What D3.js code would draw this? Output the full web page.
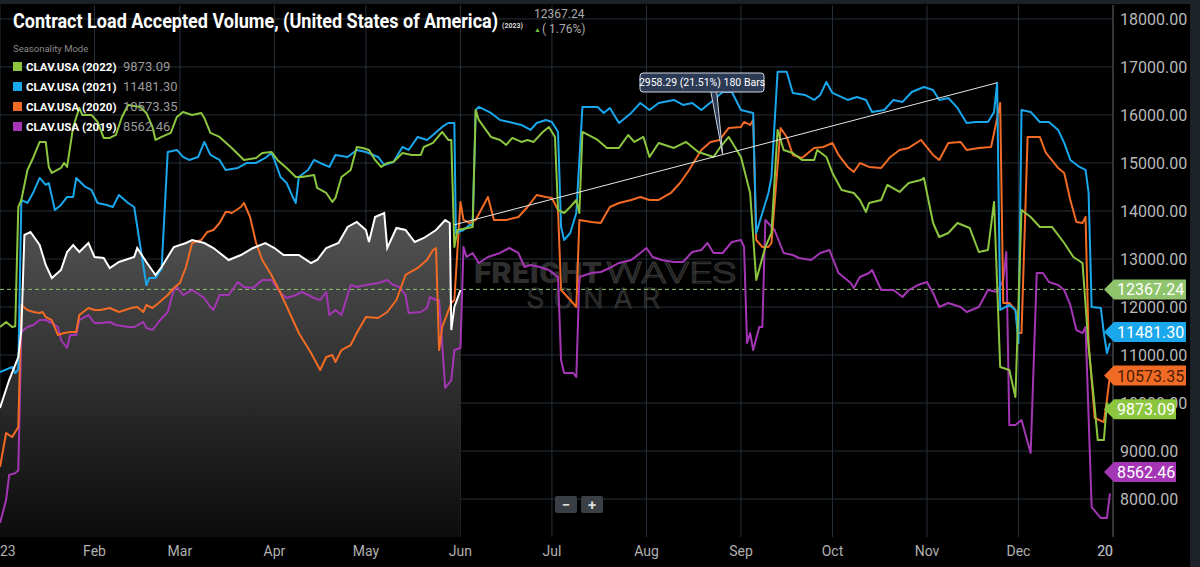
<!DOCTYPE html>
<html>
<head>
<meta charset="utf-8">
<script src="https://cdn.jsdelivr.net/npm/d3@7"></script>
<style>
  html, body { margin: 0; padding: 0; background: #000; }
  svg { display: block; font-family: Roboto, "Noto Sans", sans-serif; }
</style>
</head>
<body>
<svg id="chart" width="1200" height="567"></svg>
<script>
// [day of 2023, value]
const s2023 = [[0,9896],[3,10479],[6,10958],[7,11520],[8,13500],[10,13563],[13,13292],[15,12875],[17,12604],[20,12771],[22,13146],[24,13292],[26,13146],[29,13333],[31,13042],[34,13021],[36,12813],[39,12938],[44,13042],[45,13229],[48,12938],[51,12667],[53,12833],[57,13250],[61,13333],[63,13396],[67,13333],[70,13229],[75,12979],[79,13083],[83,13229],[87,13333],[90,13229],[93,13083],[98,13083],[102,12917],[104,12979],[107,13229],[111,13333],[114,13667],[117,13771],[120,13604],[121,13354],[123,13875],[126,13958],[127,13229],[130,13646],[133,13604],[136,13354],[139,13438],[143,13604],[146,13813],[147.5,13750],[148,11521],[149,12000],[151,12354]]

const s2022 = [[0,11583],[2,11688],[4,11583],[5,11600],[6,14083],[7,14229],[9,14854],[11,15125],[13,15438],[15,15438],[16,14917],[17,14792],[20,14896],[21,15000],[22,14917],[24,15750],[26,16146],[27,16000],[30,16000],[32,15854],[34,15521],[36,15521],[38,15583],[40,15958],[42,16208],[46,16167],[48,16042],[50,15750],[51,15479],[53,15542],[56,15625],[58,15958],[60,16063],[63,16000],[66,16042],[67,15938],[69,15625],[72,15542],[76,15313],[80,15063],[84,15104],[86,15208],[89,15229],[91,15063],[94,14896],[97,14708],[99,14708],[103,14750],[104,14479],[107,14375],[109,14188],[110,14271],[112,14708],[115,14854],[117,15333],[119,15313],[121,15271],[123,15063],[125,14917],[127,15000],[129,15021],[132,15208],[135,15167],[138,15167],[139,15333],[142,15417],[145,15646],[147,15479],[148,15479],[149,13250],[150,13604],[155,13667],[156,16104],[157,15896],[161,15542],[164,15479],[166,15375],[168,15521],[171,15438],[173,15479],[175,15438],[178,15646],[180,15750],[182,15542],[183,14021],[185,13958],[187,14083],[189,14229],[190,13958],[191,15646],[196,15479],[199,15313],[203,15313],[206,15583],[208,15438],[211,15542],[213,15125],[216,15417],[221,15313],[225,15438],[229,15229],[232,15167],[234,15125],[236,15313],[239,15542],[243,15125],[246,14375],[248,12563],[251,13250],[253,13542],[255,15688],[257,15271],[260,15208],[263,15063],[267,15063],[268,15271],[271,15125],[273,14792],[276,14438],[280,14375],[282,14229],[284,13979],[285,14167],[289,14229],[291,14542],[295,14396],[298,14583],[302,14646],[303,14688],[306,13750],[308,13458],[311,13542],[314,13750],[318,13646],[321,13146],[324,13188],[326,14188],[328,10750],[331,10688],[333,10125],[335,14021],[338,13875],[341,13667],[345,13667],[349,13333],[352,13042],[355,12917],[357,11170],[359,9917],[360,9229],[362,9229],[363,10000],[364,9873]]

const s2021 = [[0,10646],[4,10750],[5,10625],[6,10700],[7,14229],[9,14167],[11,14396],[13,14688],[15,14542],[16,14583],[18,14021],[20,14125],[22,14292],[24,14292],[25,14688],[28,14500],[30,14438],[32,14167],[35,14125],[37,14083],[39,14333],[42,14167],[44,14083],[48,12458],[49,12604],[51,12604],[53,12800],[55,15229],[58,15271],[60,15125],[62,15063],[65,15125],[67,15438],[69,15167],[72,15063],[74,14854],[78,14896],[81,15000],[84,15000],[87,15104],[89,15208],[90,15063],[92,14708],[94,14583],[96,14292],[97,14167],[98,14708],[101,14854],[103,15063],[105,15000],[108,14917],[110,15167],[114,15125],[117,15271],[120,15229],[124,15125],[126,14958],[129,15021],[132,15333],[134,15271],[137,15542],[140,15479],[142,15583],[145,15750],[147,15833],[149,15833],[149.5,13542],[152,13604],[154,13708],[155,13708],[156,16104],[157,16167],[161,16042],[164,15896],[167,15854],[171,15792],[174,15688],[176,15833],[179,15896],[181,15854],[183,15646],[184,13667],[185,13396],[187,13542],[189,13958],[191,16167],[194,16167],[196,16167],[198,16042],[200,16146],[203,15833],[207,16042],[210,16250],[213,16104],[216,16250],[221,16313],[224,16208],[227,16250],[230,16104],[234,16313],[237,16479],[240,16479],[243,16104],[247,16042],[248,13542],[250,13958],[252,14375],[253,14708],[255,16900],[258,16900],[260,16458],[264,16417],[267,16313],[269,16417],[271,16688],[273,16458],[278,16313],[281,16375],[284,16313],[286,16063],[290,16104],[293,16313],[296,16271],[299,16479],[303,16583],[306,16521],[308,16313],[311,16354],[314,16146],[317,15833],[320,15854],[324,15854],[326,16063],[327,16670],[328,11938],[331,12042],[333,11938],[334,11250],[335,16104],[338,16063],[341,15854],[344,15854],[347,15688],[349,15417],[351,15063],[354,14917],[356,14854],[357,14375],[358,12000],[361,11979],[362,11460],[363,11040],[364,11250]]

const s2020 = [[0,8667],[2,9375],[4,9292],[6,9500],[7,12042],[9,11938],[11,11896],[13,11875],[14,11896],[15,11792],[17,11729],[19,11417],[21,11458],[23,11479],[25,11479],[26,11833],[29,11979],[31,11938],[33,11938],[36,11979],[39,11896],[43,11979],[45,12000],[47,11896],[48,12042],[50,11979],[52,12083],[55,12250],[57,12396],[59,12500],[61,12833],[63,13333],[66,13396],[68,13563],[70,13604],[72,13750],[74,13979],[75,13979],[76,13958],[79,14083],[80,14167],[82,13875],[84,13333],[86,12979],[89,12667],[92,12292],[95,11875],[98,11458],[102,11042],[105,10688],[107,10958],[109,11000],[110,10854],[112,11104],[115,11208],[117,11458],[120,11792],[124,11771],[127,11896],[130,12146],[133,12667],[137,12813],[140,12979],[142,13188],[143,13229],[144,11104],[145,11583],[148,12083],[149,12146],[151,14188],[152,13813],[154,13750],[156,13813],[160,14292],[162,13813],[166,13813],[170,13875],[173,14083],[176,14333],[179,14292],[181,14271],[183,14021],[184,12354],[187,12146],[189,12000],[190,13813],[194,13771],[197,13750],[200,14083],[203,14167],[207,14229],[210,14292],[213,14229],[216,14229],[220,14375],[223,14583],[226,14854],[230,15271],[233,15438],[236,15479],[239,15729],[243,15750],[244,15854],[246,15792],[247,15896],[248,13396],[250,13250],[252,13250],[253,13333],[256,15729],[258,15542],[260,15167],[263,15104],[267,15313],[270,15333],[273,15417],[275,15167],[278,14917],[280,14813],[282,15000],[285,14917],[289,14896],[292,15125],[295,15271],[298,15313],[302,15479],[306,15167],[308,15063],[311,15417],[315,15438],[317,15271],[321,15313],[325,15333],[326,15625],[328,16250],[329,12083],[331,12083],[333,11938],[334,11458],[335,11458],[337,15542],[341,15542],[343,15208],[347,14896],[349,14792],[351,14229],[353,13771],[355,13750],[356,13875],[357,11250],[359,9688],[362,9604],[363,10063],[364,10573]]

const s2019 = [[0,7500],[2,7979],[3,8500],[5,8540],[6,8600],[7,11479],[9,11583],[11,11625],[13,11729],[15,11729],[17,11667],[19,11583],[20,11313],[22,11146],[23,11417],[25,11417],[26,11729],[29,11833],[31,11667],[33,11667],[36,11688],[38,11625],[42,11583],[44,11583],[47,11688],[48,11563],[50,11521],[52,11688],[55,11896],[57,12354],[58,12417],[60,12250],[63,12354],[67,12188],[69,12000],[70,11938],[72,12250],[75,12250],[78,12521],[80,12417],[83,12396],[86,12563],[89,12563],[92,12292],[94,12188],[97,12250],[99,12313],[103,12188],[105,12146],[107,12313],[108,11833],[110,11938],[112,11833],[115,12458],[117,12417],[120,12458],[124,12500],[127,12563],[129,12458],[131,12417],[133,12250],[134,11875],[138,11896],[140,11979],[141,12208],[143,12146],[144,12146],[146,10313],[148,10479],[149,11104],[151,11146],[152,13250],[153,13042],[155,13125],[157,12917],[160,13042],[164,13125],[167,13229],[170,13125],[172,12833],[174,12875],[177,12833],[180,12771],[183,12625],[184,10896],[185,10625],[188,10625],[189,10542],[190,12625],[194,12708],[197,12729],[200,12813],[203,12917],[207,12979],[210,13125],[212,13229],[214,13042],[217,12979],[221,12938],[224,12938],[227,13146],[230,13188],[232,13333],[234,13125],[237,13125],[240,13354],[243,13396],[244,13250],[245,11250],[246,11458],[247,11104],[249,11583],[250,11583],[251,13813],[254,13604],[257,13125],[260,13083],[262,13021],[266,12979],[269,13125],[272,13188],[275,12708],[279,12500],[280,12396],[282,12625],[285,12708],[286,12771],[289,12354],[293,12354],[296,12208],[298,12354],[301,12458],[304,12521],[306,12292],[308,12000],[311,12083],[315,12000],[317,11896],[321,12000],[324,12354],[327,12313],[329,12563],[330,13146],[331,9542],[333,9542],[335,9646],[338,8958],[340,12708],[342,12708],[344,12521],[347,12458],[349,12354],[351,12042],[353,11521],[355,11458],[356,11583],[358,7833],[361,7604],[363,7604],[364,8120]]

const seriesNames = ['CLAV.USA (2022)', 'CLAV.USA (2021)', 'CLAV.USA (2020)', 'CLAV.USA (2019)']
const seriesColors = ['#8cc63f', '#1aa7ec', '#f26b24', '#a436b5']
const lastValues = [9873.09, 11481.30, 10573.35, 8562.46]
const currentValue = 12367.24
const changePct = '1.76%'
const yTicks = [8000, 9000, 10000, 11000, 12000, 13000, 14000, 15000, 16000, 17000, 18000]
const trendFrom = [149, 13712]
const trendTo = [327, 16670]

const svg = d3.select('#chart')
const W = 1200, H = 567
const plotR = 1113, plotT = 5, plotB = 537

const day0 = new Date(2023, 0, 1)
const toDate = d => new Date(day0.getTime() + d * 864e5)

const x = d3.scaleTime().domain([day0, new Date(2024, 0, 1)]).range([0, plotR])
const y = d3.scaleLinear().domain([7210, 18290]).range([plotB, plotT])

// backgrounds
svg.append('rect').attr('width', W).attr('height', H).attr('fill', '#000')
svg.append('rect').attr('x', 1190).attr('width', 10).attr('height', H).attr('fill', '#1d2229')
svg.append('rect').attr('width', W).attr('height', 4).attr('fill', '#1d2229')

// grid
const grid = svg.append('g')
grid.selectAll('.hy').data(yTicks).join('line')
    .attr('x1', 0).attr('x2', plotR)
    .attr('y1', d => y(d)).attr('y2', d => y(d))
    .attr('stroke', '#25303b').attr('stroke-width', 1)
grid.selectAll('.vx').data(x.ticks(d3.timeMonth.every(1))).join('line')
    .attr('x1', d => x(d)).attr('x2', d => x(d))
    .attr('y1', plotT).attr('y2', plotB)
    .attr('stroke', '#25303b').attr('stroke-width', 1)

// watermark
const wm = svg.append('g')
wm.append('text').attr('x', 474).attr('y', 283).attr('font-size', 30).attr('font-weight', 900)
    .attr('fill', '#2e2e2e').attr('textLength', 128).attr('lengthAdjust', 'spacingAndGlyphs').text('FREIGHT')
wm.append('text').attr('x', 606).attr('y', 283).attr('font-size', 30).attr('font-weight', 300)
    .attr('fill', 'none').attr('stroke', '#333').attr('stroke-width', 1.2)
    .attr('textLength', 130).attr('lengthAdjust', 'spacingAndGlyphs').text('WAVES')
wm.append('text').attr('x', 527).attr('y', 308).attr('font-size', 28).attr('font-weight', 300)
    .attr('fill', 'none').attr('stroke', '#333').attr('stroke-width', 1.2)
    .attr('textLength', 133).attr('lengthAdjust', 'spacing').text('SONAR')

// area under 2023
const defs = svg.append('defs')
const grad = defs.append('linearGradient').attr('id', 'ag').attr('x1', 0).attr('x2', 0).attr('y1', 0).attr('y2', 1)
grad.append('stop').attr('offset', '0%').attr('stop-color', '#545454')
grad.append('stop').attr('offset', '100%').attr('stop-color', '#0c0c0c')
svg.append('path').datum(s2023)
    .attr('fill', 'url(#ag)')
    .attr('d', d3.area().x(d => x(toDate(d[0]))).y0(plotB).y1(d => y(d[1])))

// dashed current-value line
svg.append('line').attr('x1', 0).attr('x2', plotR)
    .attr('y1', y(currentValue)).attr('y2', y(currentValue))
    .attr('stroke', '#8fc46c').attr('stroke-dasharray', '4,3').attr('stroke-width', 1)

const line = d3.line().x(d => x(toDate(d[0]))).y(d => y(d[1]))
const lines = [s2019, s2020, s2021, s2022]
const lineColors = [seriesColors[3], seriesColors[2], seriesColors[1], seriesColors[0]]
svg.selectAll('.ser').data(lines).join('path')
    .attr('fill', 'none').attr('stroke', (d, i) => lineColors[i]).attr('stroke-width', 2)
    .attr('stroke-linejoin', 'round').attr('d', line)
svg.append('path').datum(s2023).attr('fill', 'none').attr('stroke', '#fff')
    .attr('stroke-width', 2).attr('d', line)

// trend line annotation
svg.append('line')
    .attr('x1', x(toDate(trendFrom[0]))).attr('y1', y(trendFrom[1]))
    .attr('x2', x(toDate(trendTo[0]))).attr('y2', y(trendTo[1]))
    .attr('stroke', '#e8e8e8').attr('stroke-width', 1)
const midDay = 237
const midVal = trendFrom[1] + (trendTo[1] - trendFrom[1]) * (midDay - trendFrom[0]) / (trendTo[0] - trendFrom[0])
const mx = x(toDate(midDay)), my = y(midVal)
svg.append('path').attr('d', `M${mx - 12},91 L${mx},${my} L${mx - 6},91`)
    .attr('fill', '#2c3a55').attr('stroke', '#cfd6e0').attr('stroke-width', 1)
svg.append('rect').attr('x', 640).attr('y', 73).attr('width', 124).attr('height', 19).attr('rx', 3)
    .attr('fill', '#2c3a55').attr('stroke', '#cfd6e0').attr('stroke-width', 1)
svg.append('text').attr('x', 702).attr('y', 86).attr('text-anchor', 'middle')
    .attr('font-size', 10.5).attr('fill', '#fff').text('2958.29 (21.51%) 180 Bars')

// y axis
svg.append('line').attr('x1', plotR).attr('x2', plotR).attr('y1', plotT).attr('y2', plotB)
    .attr('stroke', '#555')
svg.append('g').selectAll('text').data(yTicks).join('text')
    .attr('x', 1120).attr('y', d => y(d) + 6)
    .attr('font-size', 16).attr('fill', '#b8b8b8').text(d => d3.format('.2f')(d))

// x axis labels, clipped to plot width
defs.append('clipPath').attr('id', 'xc').append('rect').attr('x', 0).attr('y', 540).attr('width', plotR).attr('height', 27)
const xTicks = x.ticks(d3.timeMonth.every(1)).concat([new Date(2024, 0, 1)])
svg.append('g').attr('clip-path', 'url(#xc)').selectAll('text').data(xTicks).join('text')
    .attr('x', d => x(d)).attr('y', 556).attr('text-anchor', 'middle')
    .attr('font-size', 14).attr('fill', '#b0b0b0')
    .text(d => d.getMonth() === 0 ? d3.timeFormat('%Y')(d) : d3.timeFormat('%b')(d))

// right value tags
const tags = [
  { v: currentValue, c: '#8fc46c', t: '12367.24' },
  { v: lastValues[1], c: seriesColors[1], t: '11481.30' },
  { v: lastValues[2], c: seriesColors[2], t: '10573.35' },
  { v: lastValues[0], c: seriesColors[0], t: '9873.09' },
  { v: lastValues[3], c: seriesColors[3], t: '8562.46' }
]
const tg = svg.append('g').selectAll('g').data(tags).join('g')
    .attr('transform', d => `translate(1104,${y(d.v)})`)
tg.append('path').attr('d', d => {
    const w = d.t.length > 7 ? 82 : 72
    return `M0,0 L10,-10 L${w},-10 L${w},10 L10,10 Z`
  }).attr('fill', d => d.c)
tg.append('text').attr('x', 13).attr('y', 6).attr('font-size', 16)
    .attr('fill', d => d.t === '10573.35' ? '#4a1c05' : '#fff').text(d => d.t)

// zoom buttons
const zb = svg.append('g')
zb.append('rect').attr('x', 555).attr('y', 496).attr('width', 22).attr('height', 17).attr('rx', 2).attr('fill', '#3a3f45')
zb.append('rect').attr('x', 581).attr('y', 496).attr('width', 22).attr('height', 17).attr('rx', 2).attr('fill', '#3a3f45')
zb.append('text').attr('x', 566).attr('y', 510).attr('text-anchor', 'middle').attr('font-size', 15).attr('font-weight', 700).attr('fill', '#ddd').text('\u2212')
zb.append('text').attr('x', 592).attr('y', 510).attr('text-anchor', 'middle').attr('font-size', 15).attr('font-weight', 700).attr('fill', '#ddd').text('+')

// title + legend
svg.append('text').attr('x', 13).attr('y', 28).attr('font-size', 21).attr('font-weight', 700)
    .attr('fill', '#fff').attr('textLength', 485).attr('lengthAdjust', 'spacingAndGlyphs')
    .text('Contract Load Accepted Volume, (United States of America)')
svg.append('text').attr('x', 502).attr('y', 28).attr('font-size', 7).attr('font-weight', 700).attr('fill', '#ddd').text('(2023)')
svg.append('text').attr('x', 534).attr('y', 18).attr('font-size', 12).attr('fill', '#aaa').text(d3.format('.2f')(currentValue))
svg.append('text').attr('x', 534).attr('y', 32).attr('font-size', 7).attr('fill', '#6cbf3c').text('\u25B2')
svg.append('text').attr('x', 542).attr('y', 33).attr('font-size', 12).attr('fill', '#aaa').text('( ' + changePct + ')')
svg.append('text').attr('x', 13).attr('y', 52).attr('font-size', 9.5).attr('fill', '#8a8a8a').text('Seasonality Mode')

const leg = svg.append('g').selectAll('g').data(seriesNames).join('g')
    .attr('transform', (d, i) => `translate(13,${67 + i * 20})`)
leg.append('rect').attr('x', 0).attr('y', -5).attr('width', 9).attr('height', 9).attr('fill', (d, i) => seriesColors[i])
leg.append('text').attr('x', 13).attr('y', 4).attr('font-size', 11.5).attr('font-weight', 700).attr('fill', '#fff')
    .text(d => d)
leg.append('text').attr('x', 110).attr('y', 4).attr('font-size', 13).attr('fill', '#9a9a9a')
    .text((d, i) => d3.format('.2f')(lastValues[i]))
</script>
</body>
</html>
